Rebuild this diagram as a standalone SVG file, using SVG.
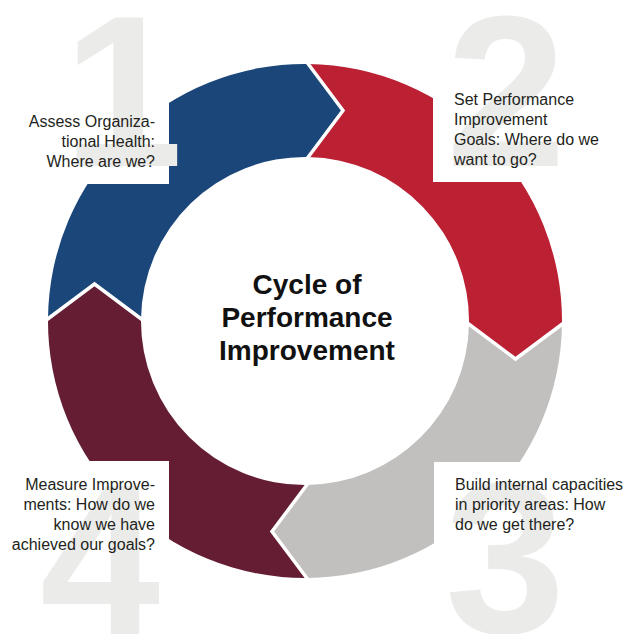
<svg xmlns="http://www.w3.org/2000/svg" width="628" height="634" viewBox="0 0 628 634">
  <style>
    .seg { stroke: none; }
    .sep { fill: none; stroke: #ffffff; stroke-width: 3.5; stroke-linejoin: miter; }
    .mask { fill: #ffffff; }
    .digit { font-family: "Liberation Sans", Arial, sans-serif; font-weight: bold; font-size: 216px; fill: #ebebea; text-anchor: middle; }
    .label { font-family: "Liberation Sans", Arial, sans-serif; font-size: 16px; fill: #231f20; }
    .title { font-family: "Liberation Sans", Arial, sans-serif; font-weight: bold; font-size: 28px; fill: #111111; text-anchor: middle; }
  </style>
  <rect width="628" height="634" fill="#ffffff"/>

  <!-- ring segments, each an arrow pointing clockwise into the next -->
  <g id="ring">
    <g id="step1">
      <path class="seg" fill="#1b4679" d="M48,319 A257,257 0 0 1 308,64 L343,110.5 L308,157 A164,164 0 0 0 141,319 L94.5,284 Z"/>
    </g>
    <g id="step2">
      <path class="seg" fill="#bb2033" d="M308,64 A257,257 0 0 1 562,324 L515.5,359 L469,324 A164,164 0 0 0 308,157 L343,110.5 Z"/>
    </g>
    <g id="step3">
      <path class="seg" fill="#c1c0be" d="M562,324 A257,257 0 0 1 307,578 L272,531.5 L307,485 A164,164 0 0 0 469,324 L515.5,359 Z"/>
    </g>
    <g id="step4">
      <path class="seg" fill="#651d33" d="M307,578 A257,257 0 0 1 48,319 L94.5,284 L141,319 A164,164 0 0 0 307,485 L272,531.5 Z"/>
    </g>
  </g>

  <!-- white chevron gaps between segments -->
  <g id="connectors">
    <polyline class="sep" points="306,61 343,110.5 306,160"/>
    <polyline class="sep" points="565,322 515.5,359 466,322"/>
    <polyline class="sep" points="309,581 272,531.5 309,482"/>
    <polyline class="sep" points="45,321 94.5,284 144,321"/>
  </g>

  <!-- white panels behind the captions -->
  <g id="panels">
    <rect class="mask" x="0" y="0" width="169" height="184"/>
    <rect class="mask" x="433" y="0" width="195" height="182"/>
    <rect class="mask" x="434" y="462" width="194" height="172"/>
    <rect class="mask" x="0" y="461" width="169" height="173"/>
  </g>

  <!-- large step numbers -->
  <g id="numbers">
    <text class="digit" x="123" y="166">1</text>
    <text class="digit" x="506" y="166">2</text>
    <text class="digit" x="505" y="633">3</text>
    <text class="digit" x="100" y="634">4</text>
  </g>

  <g id="caption1" class="label" text-anchor="end">
    <text x="155" y="127">Assess Organiza-</text>
    <text x="155" y="147">tional Health:</text>
    <text x="155" y="167">Where are we?</text>
  </g>
  <g id="caption2" class="label">
    <text x="454" y="105">Set Performance</text>
    <text x="454" y="125">Improvement</text>
    <text x="454" y="145">Goals: Where do we</text>
    <text x="454" y="165">want to go?</text>
  </g>
  <g id="caption3" class="label">
    <text x="455" y="490">Build internal capacities</text>
    <text x="455" y="510">in priority areas: How</text>
    <text x="455" y="530">do we get there?</text>
  </g>
  <g id="caption4" class="label" text-anchor="end">
    <text x="155" y="490">Measure Improve-</text>
    <text x="155" y="510">ments: How do we</text>
    <text x="155" y="530">know we have</text>
    <text x="155" y="550">achieved our goals?</text>
  </g>

  <g id="center-title" class="title">
    <text x="307" y="294">Cycle of</text>
    <text x="307" y="327">Performance</text>
    <text x="307" y="360">Improvement</text>
  </g>
</svg>
